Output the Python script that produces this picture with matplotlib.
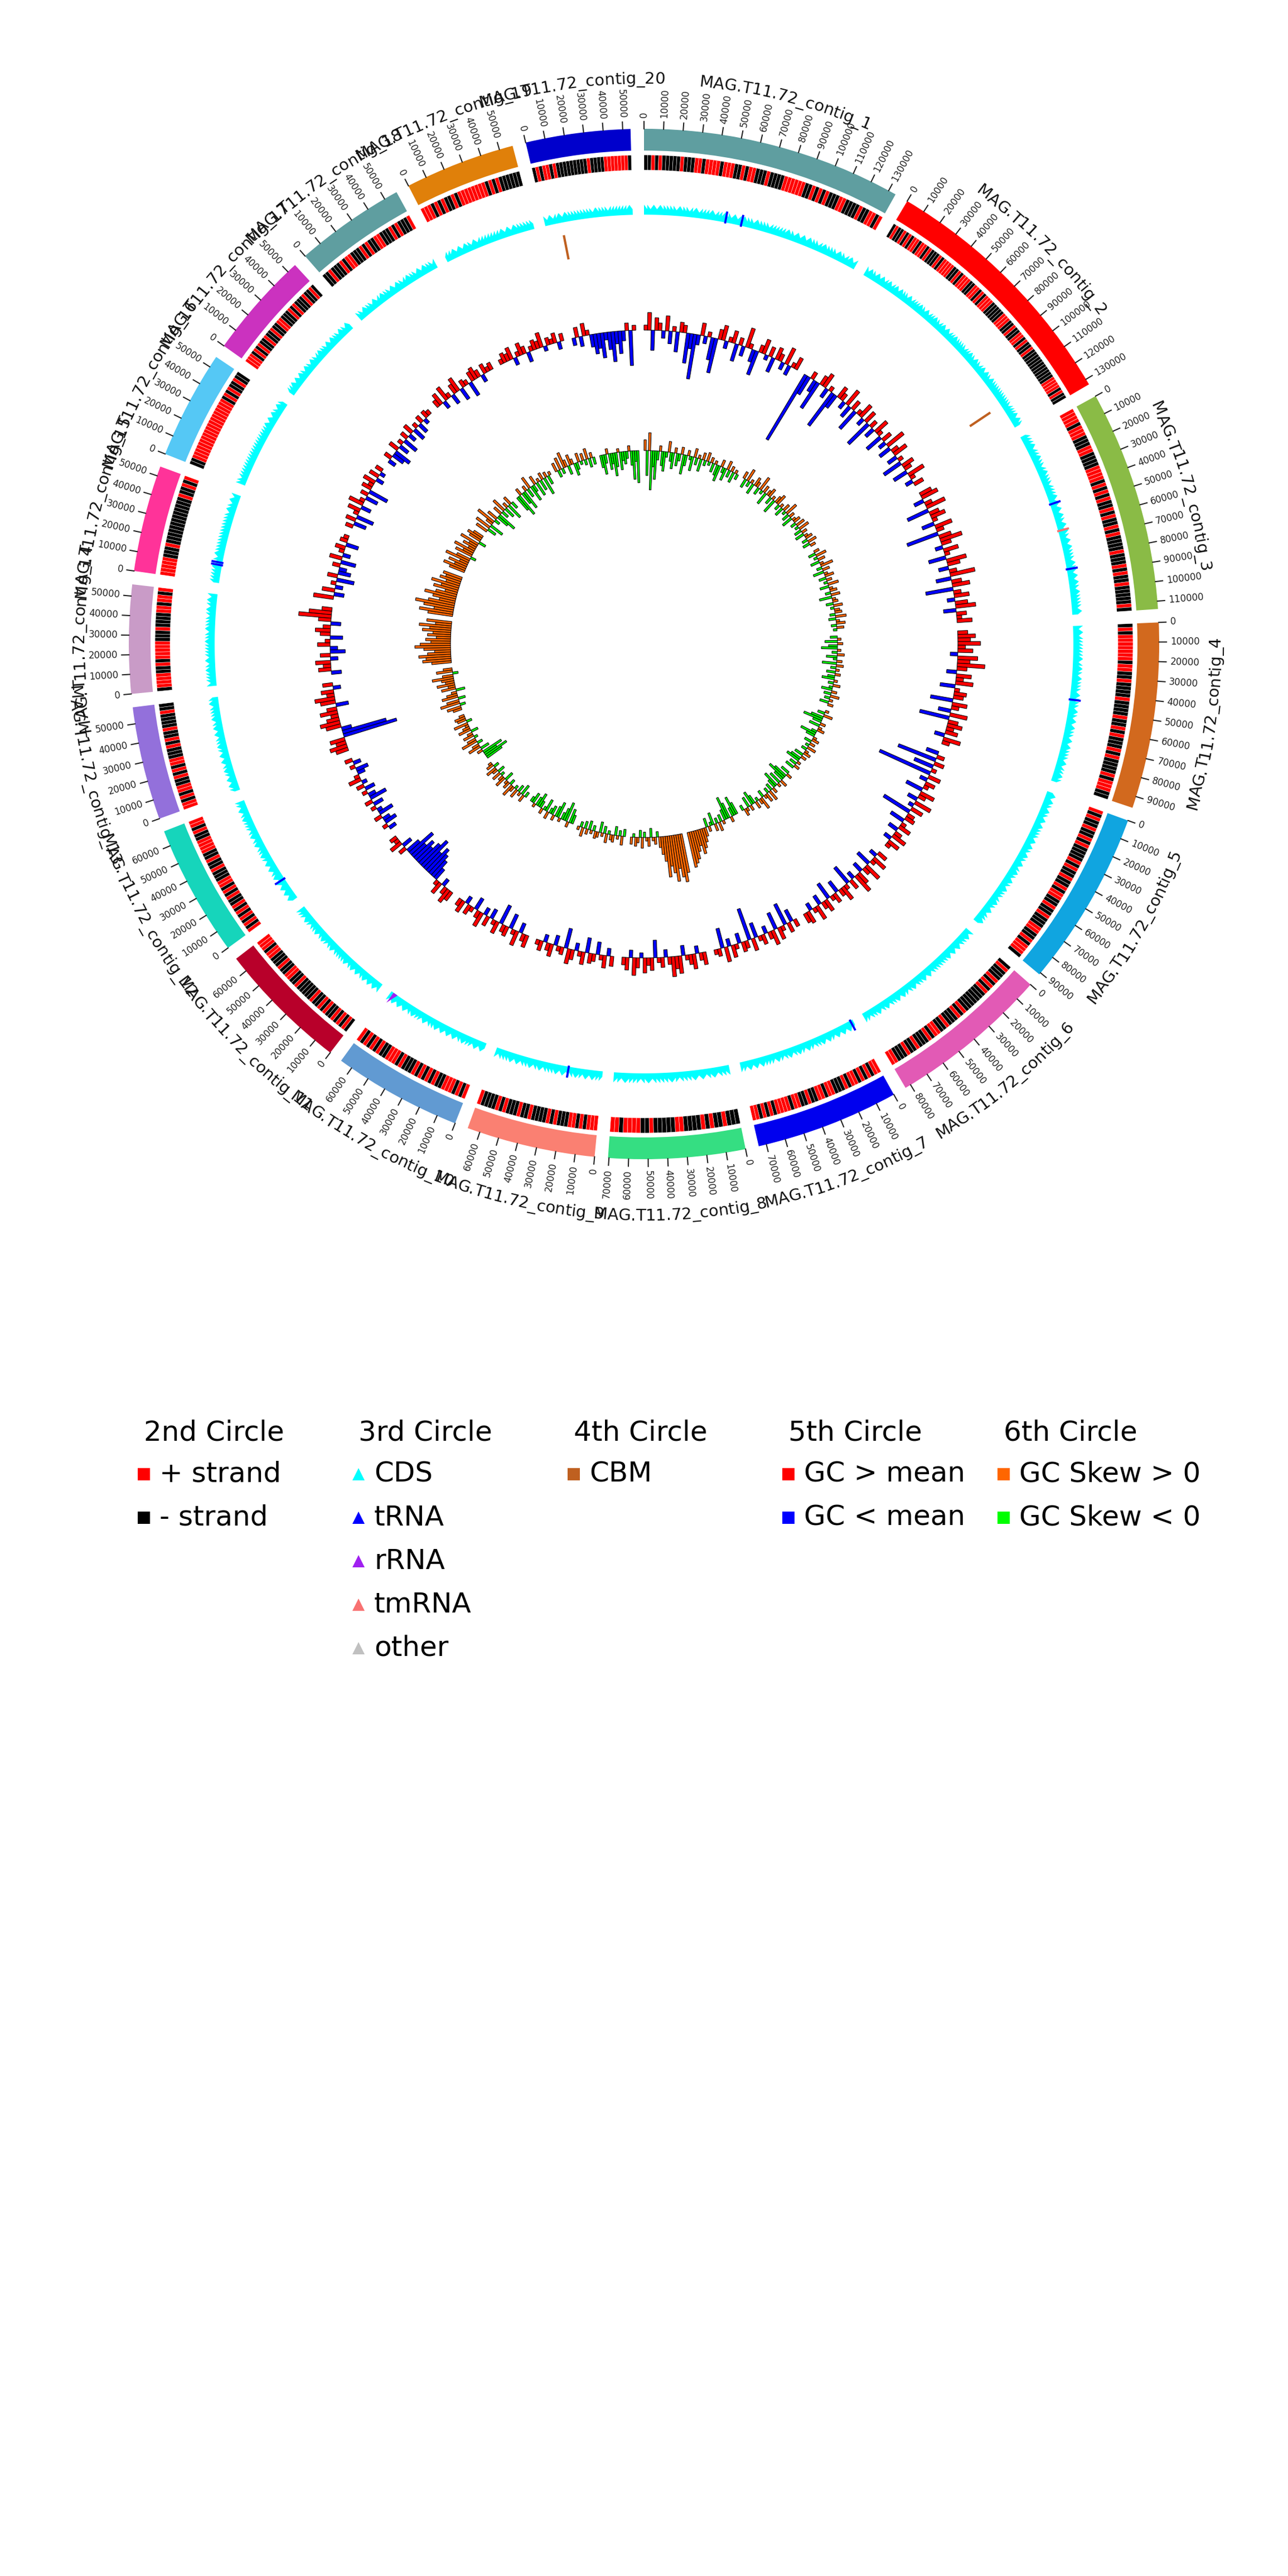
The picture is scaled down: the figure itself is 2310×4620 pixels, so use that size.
import numpy as np
import matplotlib
matplotlib.use("Agg")
import matplotlib.pyplot as plt
from matplotlib.font_manager import FontProperties
from matplotlib.textpath import TextToPath

# ---- contigs (outer circle) ----
contig_names = [f"MAG.T11.72_contig_{i}" for i in range(1, 21)]
contig_lengths = [134000, 133000, 114000, 96000, 91000, 83000, 74000, 70500, 66500, 66500,
                  68000, 68000, 58500, 56000, 55000, 56000, 55000, 57000, 57000, 54000]
contig_colors = ["#5F9EA0", "#FF0000", "#8ABB46", "#D2691E", "#10A5E0", "#E25AB5", "#0000EE",
                 "#35DE82", "#FA8072", "#619AD2", "#B8002A", "#16D5BB", "#9370DB", "#C99BC7",
                 "#FF3399", "#55C8F5", "#CB32BF", "#5F9EA0", "#E0800A", "#0000CC"]

# ---- 2nd circle: strand of each gene block (+ / -) ----
strand_patterns = [
    "--+-+-----+---++-++++-+++--+-++---+----++++++--+-+-+---++----+--++-+",
    "-+--+-+-++-++-+---+-++++--+-+++--++-+-+++-----+++--+--++-+--+-----------++++-+--",
    "++++-+++---++----++++-+-+-+--+-+--+-+----+---+-+--+-----+-",
    "-+-+++++++-++--+----+----+--+-+---+-+----+-+++--",
    "+-+--+--+-+----+-+--+--+-++--+--+---++--+-+++-",
    "-+---+-+-+-------+-+---+--++-+---+--+---++",
    "++-+-+-++-+---++-++--+--++-++++-+-+-++",
    "---+--+-+----++-----+--++++-++",
    "+++-+-++---+-+----+--+---+-+----+",
    "+-+-+++--+-+-+-+---+-+++--+-+-+-+",
    "-+-+-+--+-+--+-----+--++--+---++-+++",
    "+-+-+-+-+--+-+-++---+--+--++++--+-++",
    "++-+-++--+-+-++---+-+--+----+--",
    "-++++--+-+++++---+----++-++-+",
    "+++++---+-------------+--+-+",
    "--+++++++++++++++++++-+-+--+--",
    "+++-+-+--+--+--++---+-+---+--+-",
    "--+---+-++---+-+--++---+-+---+",
    "+++-+-+--+-++++++++-+-+------",
    "-+-++-+---------+----+++++++-",
]

# ---- 3rd circle: non-CDS features (contig number, position bp) ----
trna_sites = [(1, 50000), (1, 59800), (3, 45000), (3, 86000), (4, 45000), (7, 1500),
              (9, 21000), (12, 14000), (15, 11000), (15, 12500)]
rrna_sites = [(10, 63500)]
tmrna_sites = [(3, 62000)]

# ---- 4th circle: CBM genes ----
cbm_sites = [(2, 117000), (20, 10000)]

# ---- 5th circle: GC content minus mean (%), per window, one string per contig ----
gc_values = [
    "2 7 -8 5 3 -3 6 -5 2 -8 4 3 -12 -6 -18 -4 5 -3 2 -9 -14 4 6 -3 2 5 -7 3 -4 8 2 -5 -10 3 6 -2 4 -6 5 3 -3 7 -4 2 5",
    "-30 -8 3 -5 -12 4 6 -4 2 -16 -6 5 3 -3 7 -5 4 -9 2 6 -3 5 -11 3 -4 6 2 -7 4 -3 8 -5 3 6 -4 2 -8 5 3 -6 7 2 -3 4",
    "5 7 -4 3 8 -9 4 6 2 -5 7 3 -13 5 9 4 -3 6 2 -7 8 5 -4 3 10 -6 4 7 -11 3 6 -3 5 8 -5 4 2 6",
    "4 7 5 9 3 6 -3 8 5 11 4 -4 6 3 7 -6 2 5 4 -9 6 3 -5 7 -12 4 6 3 5 -4 7 3",
    "-5 3 -16 4 -8 2 -22 5 -3 4 2 -7 6 3 -4 7 -2 5 -12 3 4 -6 2 5 -4 3 6 -3 5 2",
    "4 -3 6 2 -6 7 3 -4 5 8 -3 4 -8 2 6 3 -5 4 2 -7 5 3 -4 6 2 -3 5 4",
    "3 -5 4 -9 2 5 -7 6 3 -3 4 2 -6 5 -13 3 4 -4 2 5 -3 6 -8 3 2",
    "5 3 -3 6 4 2 -4 7 5 8 3 -3 4 2 -7 5 3 6 -2 4 7 -3 5 3",
    "4 -3 5 2 -5 3 4 -6 5 2 -3 4 6 -8 3 2 -4 5 3 -3 4 2",
    "5 3 -4 6 2 -6 4 3 -8 5 2 -4 4 -3 6 3 -5 2 4 -3 5 3",
    "4 6 3 -3 5 2 -5 -8 -10 -12 -9 -14 -11 -8 -10 -7 -12 -6 3 -4 5 2 3",
    "-3 2 -5 -3 3 -6 -2 2 -4 3 -7 -3 2 -4 3 -2 5 2 -3 -5 2 -3 3",
    "5 7 4 6 -22 -18 -4 6 8 5 3 7 4 -5 6 8 3 5 -3 4",
    "-4 5 3 6 -3 4 -6 -3 5 2 -5 4 6 3 -4 5 13 9 4",
    "8 -4 5 -3 2 -7 4 -5 -3 3 -6 5 -3 2 4 -5 3 2",
    "3 -5 4 -7 2 5 -4 6 2 -5 3 -8 4 2 5 -3 4 -2 3",
    "-3 3 -5 -7 4 -4 2 -6 3 -3 4 -5 2 -4 3 -2 3 2",
    "3 5 -3 6 2 -4 4 6 -5 3 2 -6 4 5 3 -3 4 2 3",
    "2 4 3 5 -3 2 5 3 -4 2 4 3 6 -2 3 2 4 -3 3",
    "-3 4 -4 5 2 -5 -8 -6 -10 -3 -7 -12 -5 -9 -4 3 -14 2",
]

# ---- 6th circle: GC skew (x100), per window, one string per contig ----
skew_values = [
    "6 -14 10 -22 -9 -16 -5 3 -8 -11 -3 6 -5 -9 3 -7 -4 4 -11 -6 3 -2 -8 5 -4 2 -7 4 -3 5 -2 3 -5 2 -6 -9 4 -3 -7 5 -4 3 -6 2 -3",
    "4 -5 7 -3 2 -6 5 3 -4 8 -2 4 -7 3 5 -4 2 -8 4 6 -3 2 -5 4 -2 7 -4 3 -6 2 4 -3 5 -2 6 -4 3 -5 2 4 -3 5 -4 3",
    "3 -4 6 -2 4 -5 2 7 -3 4 -6 2 5 -4 3 -2 6 -5 2 4 -3 5 -7 2 3 -4 5 -2 3 4 -3 6 -4 2 5 -3 4 -2",
    "-4 2 -7 3 -5 -9 2 -3 4 -6 -2 3 -8 4 -3 2 -5 3 -4 -7 2 -3 4 -2 -6 3 -4 5 -3 2 -5 3",
    "2 -4 5 -7 -11 -5 3 -6 2 4 -3 -9 -5 2 4 -4 3 -2 5 -3 2 4 -5 3 -6 -8 2 -4 3 -5",
    "-5 3 -8 -11 -6 4 -7 2 -9 -5 3 -4 6 -3 5 2 -4 7 3 -2 4 -5 -8 3 -6 2 4 -3",
    "-7 -11 -5 3 -9 -13 -6 2 -4 5 -3 4 -7 -2 3 -5 5 8 11 14 9 12 16 18 20",
    "22 27 24 19 26 21 17 23 14 10 6 -3 4 2 -5 5 2 -3 6 -4 3 5 -2 4",
    "-4 5 -3 2 -5 4 3 -2 5 -4 2 -6 3 4 -3 2 -5 3 -4 5 -3 2",
    "-5 -8 3 -11 -7 -4 2 -9 -6 3 -5 -3 4 -7 -2 3 -4 -8 -5 2 -6 -3",
    "-3 4 -6 2 -4 5 -2 3 7 -3 4 2 -5 6 3 -2 5 -4 3 6 -3 4 2",
    "-10 -14 -8 -12 3 -5 7 4 -3 9 5 -2 6 3 -4 7 4 2 8 -3 5 6 3",
    "5 8 -3 11 7 -4 9 6 3 -5 8 4 10 5 7 12 6 -3 9 5",
    "11 16 14 18 13 9 15 20 17 11 14 8 13 10 16 12 18 9 14",
    "14 19 11 17 22 15 9 13 18 12 7 14 10 16 8 12 9 11",
    "9 13 7 11 5 14 8 -3 10 6 12 4 8 5 11 -4 7 9 6",
    "7 -5 9 -8 4 11 -3 6 -7 -11 5 -4 8 -6 3 -9 5 -4",
    "-9 -13 4 -7 -11 3 -5 7 -9 -4 5 -8 2 -6 4 -10 3 -5 2",
    "5 -4 7 -3 9 4 -5 6 3 -7 -4 5 -2 4 -3 6 -5 3 -4",
    "-7 -11 -5 3 -9 -6 -13 -8 2 -10 -5 -7 -4 3 -8 -16 -6 -18",
]

# ---- colours ----
COL_PLUS, COL_MINUS = "#FF0000", "#000000"
COL_CDS, COL_TRNA, COL_RRNA, COL_TMRNA, COL_OTHER = "#00FFFF", "#0000FF", "#A020F0", "#F87171", "#C0C0C0"
COL_CBM = "#BF6020"
COL_GC_HI, COL_GC_LO = "#FF0000", "#0000FF"
COL_SK_HI, COL_SK_LO = "#FF6600", "#00FF00"

# ---- layout (radii in pixels) ----
GAP = 1.5
R_BAR = (885, 924)
R_STRAND = (850, 877)
R_CDS = (770, 780, 788)
R_CBM = (705, 745)
GC_BASE, GC_SCALE = 563, 4.5
SK_BASE, SK_SCALE = 347, 3.2

deg_per_bp = (360 - GAP * len(contig_lengths)) / sum(contig_lengths)
starts = []
pos = 0.0
for L in contig_lengths:
    starts.append(pos)
    pos += L * deg_per_bp + GAP


def ang(ci, bp):
    return np.deg2rad(starts[ci] + bp * deg_per_bp)


def window_bars(ax, ci, vals, base, scale, col_hi, col_lo):
    L = contig_lengths[ci]
    w = L / len(vals)
    ths = [ang(ci, (k + 0.5) * w) for k in range(len(vals))]
    ax.bar(ths, [v * scale for v in vals], width=np.deg2rad(w * deg_per_bp),
           bottom=base, color=[col_hi if v > 0 else col_lo for v in vals],
           edgecolor="black", linewidth=0.25)


fig = plt.figure(figsize=(7.7, 15.4), dpi=300)
ax = fig.add_axes([0, 0.5, 1, 0.5], projection="polar")
ax.set_theta_zero_location("N")
ax.set_theta_direction(-1)
ax.set_ylim(0, 1155)
ax.set_axis_off()

for ci, L in enumerate(contig_lengths):
    span = np.deg2rad(L * deg_per_bp)
    # contig bar
    ax.bar(ang(ci, L / 2), R_BAR[1] - R_BAR[0], width=span, bottom=R_BAR[0],
           color=contig_colors[ci], edgecolor="none")

    # ticks
    for t in range(0, L + 1, 10000):
        th = ang(ci, t)
        ax.plot([th, th], [R_BAR[1], R_BAR[1] + 13], color="#222222", lw=0.5)
        a = np.rad2deg(th) % 360
        if a <= 180:
            rot, ha = 90 - a, "left"
        else:
            rot, ha = 270 - a, "right"
        ax.text(th, R_BAR[1] + 20, str(t), rotation=rot, rotation_mode="anchor",
                ha=ha, va="center", fontsize=4, color="#222222")

    # strand blocks
    pat = strand_patterns[ci]
    n = len(pat)
    w = L / n
    ths = [ang(ci, (k + 0.5) * w) for k in range(n)]
    cols = [COL_PLUS if c == "+" else COL_MINUS for c in pat]
    ax.bar(ths, R_STRAND[1] - R_STRAND[0], width=np.deg2rad(w * deg_per_bp),
           bottom=R_STRAND[0], color=cols, edgecolor="white", linewidth=0.12)

    # CDS arrows (sawtooth band)
    ot, orr = [], []
    for k, c in enumerate(pat):
        a0, a1 = k * w, (k + 1) * w
        ot += [ang(ci, a0), ang(ci, a1)]
        orr += [R_CDS[1], R_CDS[2]] if c == "+" else [R_CDS[2], R_CDS[1]]
    inner = np.linspace(L, 0, 80)
    ax.fill(ot + [ang(ci, x) for x in inner], orr + [R_CDS[0]] * len(inner),
            color=COL_CDS, lw=0)

    # GC content and GC skew
    window_bars(ax, ci, [int(v) for v in gc_values[ci].split()], GC_BASE, GC_SCALE,
                COL_GC_HI, COL_GC_LO)
    window_bars(ax, ci, [int(v) for v in skew_values[ci].split()], SK_BASE, SK_SCALE,
                COL_SK_HI, COL_SK_LO)

for cnum, bp in trna_sites:
    th = ang(cnum - 1, bp)
    ax.plot([th, th], [R_CDS[0], R_CDS[2]], color=COL_TRNA, lw=0.9)
for cnum, bp in tmrna_sites:
    th = ang(cnum - 1, bp)
    ax.plot([th, th], [R_CDS[0], R_CDS[2]], color=COL_TMRNA, lw=0.9)
for cnum, bp in rrna_sites:
    ax.fill([ang(cnum - 1, bp - 1500), ang(cnum - 1, bp + 1500), ang(cnum - 1, bp + 1500)],
            [R_CDS[0], R_CDS[0], R_CDS[2] + 4], color=COL_RRNA, lw=0)
for cnum, bp in cbm_sites:
    th = ang(cnum - 1, bp)
    ax.plot([th, th], [R_CBM[0], R_CBM[1]], color=COL_CBM, lw=1.0)

# curved contig labels
fp = FontProperties(family="DejaVu Sans", size=7)
t2p = TextToPath()


def text_w(s):
    if not s:
        return 0.0
    wd, _, _ = t2p.get_text_width_height_descent(s, fp, ismath=False)
    return wd * 300 / 72


for ci, name in enumerate(contig_names):
    mid = starts[ci] + contig_lengths[ci] * deg_per_bp / 2
    flip = 90 < mid < 270
    r_base = 1034 if flip else 1005
    total = text_w(name)
    for i, ch in enumerate(name):
        c = (text_w(name[:i]) + text_w(name[:i + 1])) / 2 - total / 2
        d = np.rad2deg(c / r_base)
        a = mid - d if flip else mid + d
        rot = 180 - a if flip else -a
        ax.text(np.deg2rad(a), r_base, ch, rotation=rot, rotation_mode="anchor",
                ha="center", va="baseline", fontproperties=fp, color="#111111")

# ---- legend ----
leg_titles = ["2nd Circle", "3rd Circle", "4th Circle", "5th Circle", "6th Circle"]
leg_entries = [
    [("+ strand", COL_PLUS, "s"), ("- strand", COL_MINUS, "s")],
    [("CDS", COL_CDS, "^"), ("tRNA", COL_TRNA, "^"), ("rRNA", COL_RRNA, "^"),
     ("tmRNA", COL_TMRNA, "^"), ("other", COL_OTHER, "^")],
    [("CBM", COL_CBM, "s")],
    [("GC > mean", COL_GC_HI, "s"), ("GC < mean", COL_GC_LO, "s")],
    [("GC Skew > 0", COL_SK_HI, "s"), ("GC Skew < 0", COL_SK_LO, "s")],
]
leg_x = [258, 643, 1029, 1414, 1800]
title_y = 2583
row_y = [2658, 2736, 2814, 2892, 2970]

lax = fig.add_axes([0, 0, 1, 1])
lax.set_xlim(0, 2310)
lax.set_ylim(4620, 0)
lax.set_axis_off()
for x0, title, entries in zip(leg_x, leg_titles, leg_entries):
    lax.text(x0, title_y, title, fontsize=12, ha="left", va="baseline")
    for (label, col, mk), y in zip(entries, row_y):
        lax.plot([x0], [y - 14], marker=mk, ms=5.3, color=col, mew=0, ls="none")
        lax.text(x0 + 28, y, label, fontsize=12, ha="left", va="baseline")

fig.savefig("out.png", dpi=300)
